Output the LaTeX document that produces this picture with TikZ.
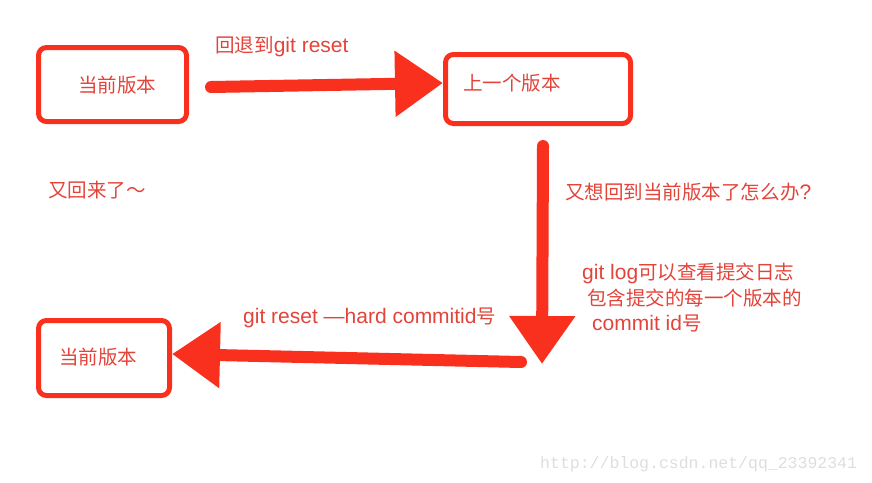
\documentclass[tikz,border=0pt]{standalone}
\usepackage{fontspec}
\setmainfont{Liberation Sans}
\newfontfamily\cjk[Scale=0.93]{Noto Sans CJK SC}
\newfontfamily\wmfont{Liberation Mono}
\usetikzlibrary{arrows.meta}
\definecolor{txtred}{RGB}{226,68,58}
\definecolor{arrred}{RGB}{250,48,30}
\definecolor{wmgray}{RGB}{222,222,222}
\tikzset{
  box/.style={draw=arrred, line width=5pt, rounded corners=8pt, inner sep=0pt},
  lbl/.style={anchor=base west, inner sep=0pt, text=txtred, font=\fontsize{21pt}{24pt}\selectfont},
  bigarrow/.style={draw=arrred, line width=12pt, line cap=round,
    -{Triangle[length=48pt, width=63pt]}},
}
\begin{document}
\begin{tikzpicture}[x=1pt,y=-1pt]
\useasboundingbox (0,0) rectangle (872,482);
% boxes
\node[box, minimum width=148pt, minimum height=74pt] (box1) at (112.5,84.5) {};
\node[box, minimum width=185pt, minimum height=69pt] (box2) at (538,89) {};
\node[box, minimum width=131pt, minimum height=75pt] (box3) at (104,358) {};
% box texts
\node[lbl] (t1) at (78,92.5) {\cjk 当前版本};
\node[lbl] (t2) at (463,90.5) {\cjk 上一个版本};
\node[lbl] (t3) at (59,364.5) {\cjk 当前版本};
% arrows
\coordinate (vtip) at (542,364);
\coordinate (btail) at (521,362);
\draw[bigarrow] ([shift={(22pt,-2.5pt)}]box1.east) -- ([yshift=6pt]box2.west);
\draw[bigarrow] ([shift={(5pt,-20pt)}]box2.south) -- (vtip);
\draw[bigarrow] (btail) -- ([yshift=4pt]box3.east);
% labels
\node[lbl] (l1) at (215,52.5) {{\cjk 回退到}git reset};
\node[lbl] (l2) at (48,197.5) {\cjk 又回来了～};
\node[lbl] (l3) at (565,199.5) {{\cjk 又想回到当前版本了怎么办}?};
\node[lbl] (l4) at (582,279.5) {git log{\cjk 可以查看提交日志}};
\node[lbl] (l5) at (587,305.5) {\cjk 包含提交的每一个版本的};
\node[lbl] (l6) at (592,330.5) {commit id{\cjk 号}};
\node[lbl] (l7) at (243,323.5) {git reset —hard commitid{\cjk 号}};
% watermark
\node[anchor=base west, inner sep=0pt, text=wmgray, font=\wmfont\fontsize{16.5pt}{18pt}\selectfont] (wm) at (540,468) {http://blog.csdn.net/qq\_23392341};
\end{tikzpicture}
\end{document}
